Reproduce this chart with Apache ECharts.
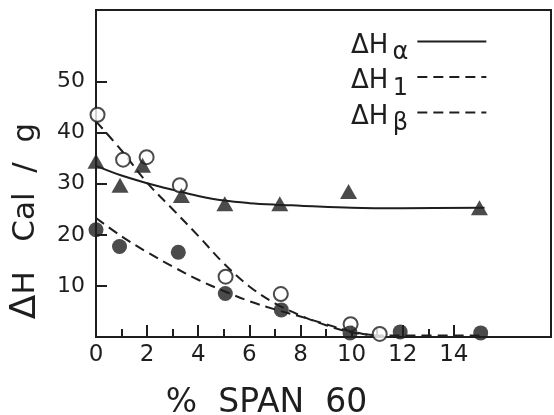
<!DOCTYPE html>
<html>
<head>
<meta charset="utf-8">
<script src="https://cdn.jsdelivr.net/npm/echarts@6/dist/echarts.min.js"></script>
<style>
html, body { margin: 0; padding: 0; background: #fff; }
#chart { width: 554px; height: 415px; }
</style>
</head>
<body>
<div id="chart"></div>
<script>
// Enthalpy vs. % SPAN 60
const FONT = '"DejaVu Sans", "Liberation Sans", sans-serif';
const INK = '#1e1e1e';

// Measured points
const alphaX = [0, 0.94, 1.82, 3.34, 5.04, 7.19, 9.88, 15.0];
const alphaY = [34.4, 29.7, 33.6, 27.7, 26.1, 26.1, 28.5, 25.3];

const oneX = [0.06, 1.06, 1.98, 3.28, 5.07, 7.23, 9.96, 11.1];
const oneY = [43.5, 34.7, 35.2, 29.7, 11.8, 8.4, 2.5, 0.6];

const betaX = [0, 0.92, 3.22, 5.06, 7.25, 9.94, 11.9, 15.05];
const betaY = [21.0, 17.7, 16.6, 8.5, 5.3, 0.8, 1.0, 0.8];

// Fitted curves
const alphaCurveX = [0, 1, 2, 3, 4, 5, 6, 7, 8, 10, 12, 15.2];
const alphaCurveY = [33.5, 31.6, 30.1, 28.8, 27.6, 26.7, 26.2, 25.9, 25.7, 25.3, 25.2, 25.3];

const oneCurveX = [0, 1, 2, 3, 4, 5, 6, 7, 8, 9, 10, 11];
const oneCurveY = [42.2, 36.5, 30.2, 25.0, 19.8, 14.4, 9.9, 6.6, 4.2, 2.3, 0.9, 0.3];

const betaCurveX = [0, 1, 2, 3, 4, 5, 6, 7, 8, 9, 10, 11, 12, 15];
const betaCurveY = [23.3, 19.7, 16.6, 13.8, 11.2, 9.0, 7.0, 5.4, 4.0, 2.5, 1.1, 0.3, 0.3, 0.3];

// Axis ticks and labels
const xMajorTicks = [0, 2, 4, 6, 8, 10, 12, 14];
const xMinorTicks = [1, 3, 5, 7, 9, 11, 13];
const yTicks = [10, 20, 30, 40, 50];

const legendNames = ['ΔHα', 'ΔH1', 'ΔHβ'];
const legendSubs = { 'ΔHα': 'α', 'ΔH1': '1', 'ΔHβ': 'β' };

const zip = (xs, ys) => xs.map((x, i) => [x, ys[i]]);

const chart = echarts.init(document.getElementById('chart'), null, { renderer: 'canvas' });

const dashed = [10, 6];

chart.setOption({
  animation: false,
  backgroundColor: '#fff',
  textStyle: { fontFamily: FONT, color: INK },
  grid: {
    left: 96, right: 3, top: 10, bottom: 78,
    outerBoundsMode: 'none',
    show: true, borderColor: INK, borderWidth: 2, backgroundColor: 'transparent'
  },
  legend: {
    data: legendNames,
    orient: 'vertical',
    left: 346, top: 28,
    align: 'right',
    itemWidth: 69, itemHeight: 12, itemGap: 3.5,
    selectedMode: false,
    itemStyle: { color: 'rgba(0,0,0,0)', borderColor: 'rgba(0,0,0,0)', borderWidth: 0 },
    formatter: name => '{h|ΔH}{s|' + legendSubs[name] + '}',
    textStyle: {
      color: INK,
      fontFamily: FONT,
      padding: [19, 0, 0, 0],
      rich: {
        h: { fontSize: 26, fontFamily: FONT, color: INK, verticalAlign: 'top' },
        s: { fontSize: 24, fontFamily: FONT, color: INK, width: 24, align: 'left', verticalAlign: 'top', padding: [8, 0, 4, 0] }
      }
    }
  },
  xAxis: [{
    type: 'value', min: 0, max: 17.8,
    name: '%  SPAN  60',
    nameLocation: 'middle', nameGap: 50,
    nameTextStyle: { fontSize: 33, color: INK, fontFamily: FONT, padding: [0, 114, 0, 0] },
    axisLine: { show: true, lineStyle: { color: INK, width: 2 } },
    axisTick: { show: true, inside: true, length: 12, customValues: xMajorTicks, lineStyle: { color: INK, width: 2 } },
    axisLabel: { show: true, customValues: xMajorTicks, fontSize: 23, color: INK, fontFamily: FONT, margin: 7 },
    splitLine: { show: false }
  }, {
    type: 'value', min: 0, max: 17.8, position: 'bottom',
    axisLine: { show: false },
    axisTick: { show: true, inside: true, length: 8, customValues: xMinorTicks, lineStyle: { color: INK, width: 2 } },
    axisLabel: { show: false },
    splitLine: { show: false }
  }],
  yAxis: {
    type: 'value', min: 0, max: 64,
    name: '{d|Δ}{t|H   Cal  /  g}',
    nameLocation: 'middle', nameRotate: 90, nameGap: 52,
    nameTextStyle: {
      color: INK, fontFamily: FONT, padding: [0, 95, 0, 0],
      rich: {
        d: { fontSize: 36, fontFamily: FONT, color: INK },
        t: { fontSize: 31, fontFamily: FONT, color: INK }
      }
    },
    axisLine: { show: true, lineStyle: { color: INK, width: 2 } },
    axisTick: { show: true, inside: true, length: 11, customValues: yTicks, lineStyle: { color: INK, width: 2 } },
    axisLabel: { show: true, customValues: yTicks, fontSize: 22, color: INK, fontFamily: FONT, margin: 11 },
    splitLine: { show: false }
  },
  series: [
    {
      name: 'ΔHα', type: 'line', smooth: 0.35, symbol: 'none',
      data: zip(alphaCurveX, alphaCurveY),
      lineStyle: { color: INK, width: 2, type: 'solid' }, itemStyle: { color: INK }, z: 2
    },
    {
      name: 'ΔH1', type: 'line', smooth: 0.35, symbol: 'none',
      data: zip(oneCurveX, oneCurveY),
      lineStyle: { color: INK, width: 2, type: dashed }, itemStyle: { color: INK }, z: 2
    },
    {
      name: 'ΔHβ', type: 'line', smooth: 0.35, symbol: 'none',
      data: zip(betaCurveX, betaCurveY),
      lineStyle: { color: INK, width: 2, type: dashed }, itemStyle: { color: INK }, z: 2
    },
    {
      name: 'ΔH1 points', type: 'scatter', symbol: 'circle', symbolSize: 14,
      data: zip(oneX, oneY),
      itemStyle: { color: '#fff', borderColor: INK, borderWidth: 2 }, z: 3
    },
    {
      name: 'ΔHβ points', type: 'scatter', symbol: 'circle', symbolSize: 15,
      data: zip(betaX, betaY),
      itemStyle: { color: INK }, z: 4
    },
    {
      name: 'ΔHα points', type: 'scatter', symbol: 'triangle', symbolSize: [17, 15],
      data: zip(alphaX, alphaY),
      itemStyle: { color: INK }, z: 5
    }
  ]
});
</script>
</body>
</html>
